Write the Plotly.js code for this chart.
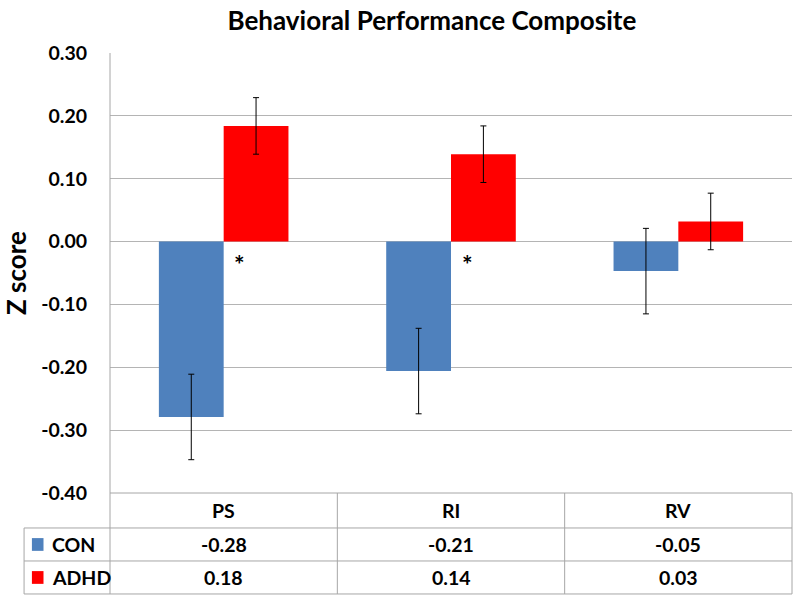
<!DOCTYPE html>
<html>
<head>
<meta charset="utf-8">
<script src="https://cdn.plot.ly/plotly-3.0.1.min.js"></script>
<style>html,body{margin:0;padding:0;background:#fff;}#chart{width:800px;height:605px;}</style>
</head>
<body>
<div id="chart"></div>
<script>
// ---- data ----
var categories = ["PS", "RI", "RV"];
var seriesNames = ["CON", "ADHD"];
var conValues = [-0.279, -0.206, -0.047];
var adhdValues = [0.184, 0.139, 0.032];
var conErrors = [0.068, 0.068, 0.068];
var adhdErrors = [0.045, 0.045, 0.045];
var conTable = ["-0.28", "-0.21", "-0.05"];
var adhdTable = ["0.18", "0.14", "0.03"];
var significant = [true, true, false];
var yTickVals = [-0.4, -0.3, -0.2, -0.1, 0, 0.1, 0.2, 0.3];
var yTickText = ["-0.40", "-0.30", "-0.20", "-0.10", "0.00", "0.10", "0.20", "0.30"];

var colors = {CON: "#4F81BD", ADHD: "#FF0000"};
var FONT = "Lato, 'Open Sans', sans-serif";
var gridColor = "#b4b4b4";
var xIdx = categories.map(function(c, i){ return i; });

var traces = [
  {type: "bar", name: seriesNames[0], x: xIdx, y: conValues,
   marker: {color: colors.CON},
   error_y: {type: "data", array: conErrors, visible: true, color: "#000", thickness: 1, width: 3}},
  {type: "bar", name: seriesNames[1], x: xIdx, y: adhdValues,
   marker: {color: colors.ADHD},
   error_y: {type: "data", array: adhdErrors, visible: true, color: "#000", thickness: 1, width: 3}}
];

// table geometry in paper coords (plot area: 110..792 px, 53..493 px)
var rowTop = 0, row1 = -0.0795, row2 = -0.1545, rowBot = -0.2295;
var tblLeft = -0.126;
var shapes = [];
var lineStyle = {color: "#a6a6a6", width: 1};
shapes.push({type: "line", xref: "paper", yref: "paper", x0: 0, x1: 1, y0: rowTop, y1: rowTop, line: lineStyle});
[row1, row2, rowBot].forEach(function(yy){
  shapes.push({type: "line", xref: "paper", yref: "paper", x0: tblLeft, x1: 1, y0: yy, y1: yy, line: lineStyle});
});
shapes.push({type: "line", xref: "paper", yref: "paper", x0: 0, x1: 0, y0: 1, y1: rowBot, line: lineStyle});
shapes.push({type: "line", xref: "paper", yref: "paper", x0: 1, x1: 1, y0: rowTop, y1: rowBot, line: lineStyle});
shapes.push({type: "line", xref: "paper", yref: "paper", x0: tblLeft, x1: tblLeft, y0: row1, y1: rowBot, line: lineStyle});
for (var i = 0; i < categories.length - 1; i++) {
  shapes.push({type: "line", xref: "x", yref: "paper", x0: i + 0.5, x1: i + 0.5, y0: rowTop, y1: rowBot, line: lineStyle});
}
var keyRows = [(row1 + row2) / 2, (row2 + rowBot) / 2];
seriesNames.forEach(function(n, k){
  var cy = keyRows[k];
  shapes.push({type: "rect", xref: "paper", yref: "paper",
    x0: -0.1145, x1: -0.0975, y0: cy - 0.0145, y1: cy + 0.0145,
    fillcolor: colors[n], line: {width: 0}});
});

var annotations = [];
var cellFont = {family: FONT, size: 19.5, color: "#000"};
categories.forEach(function(c, i){
  annotations.push({xref: "x", yref: "paper", x: i, y: (rowTop + row1) / 2, text: "<b>" + c + "</b>", showarrow: false, font: cellFont, yanchor: "middle"});
  annotations.push({xref: "x", yref: "paper", x: i, y: keyRows[0], text: "<b>" + conTable[i] + "</b>", showarrow: false, font: cellFont, yanchor: "middle"});
  annotations.push({xref: "x", yref: "paper", x: i, y: keyRows[1], text: "<b>" + adhdTable[i] + "</b>", showarrow: false, font: cellFont, yanchor: "middle"});
  if (significant[i]) {
    annotations.push({xref: "x", yref: "y", x: i, y: 0, xshift: 16, yshift: -22, text: "<b>*</b>", showarrow: false, font: {family: FONT, size: 25, color: "#000"}, yanchor: "middle"});
  }
});
seriesNames.forEach(function(n, k){
  annotations.push({xref: "paper", yref: "paper", x: -0.0875, y: keyRows[k], xanchor: "left", yanchor: "middle", text: "<b>" + n + "</b>", showarrow: false, font: cellFont});
});

var layout = {
  width: 800, height: 605,
  margin: {l: 110, r: 8, t: 53, b: 112},
  paper_bgcolor: "#fff", plot_bgcolor: "#fff",
  showlegend: false,
  barmode: "group", bargap: 0.43, bargroupgap: 0,
  title: {text: "<b>Behavioral Performance Composite</b>", x: 0.472, xref: "paper", xanchor: "center", y: 0.965, yanchor: "middle",
          font: {family: FONT, size: 26, color: "#000"}},
  xaxis: {range: [-0.5, 2.5], showticklabels: false, ticks: "", showgrid: false, zeroline: false, showline: false, fixedrange: true},
  yaxis: {range: [-0.4, 0.3], tickvals: yTickVals, ticktext: yTickText, showgrid: true, gridcolor: gridColor, gridwidth: 1,
          zeroline: false, showline: false, ticks: "", ticklabelstandoff: 22,
          tickfont: {family: FONT, size: 19.5, color: "#000", weight: "bold"},
          title: {text: "<b>Z score</b>", font: {family: FONT, size: 26, color: "#000"}, standoff: 12}},
  shapes: shapes,
  annotations: annotations
};

Plotly.newPlot("chart", traces, layout, {displayModeBar: false, staticPlot: true});
</script>
</body>
</html>
